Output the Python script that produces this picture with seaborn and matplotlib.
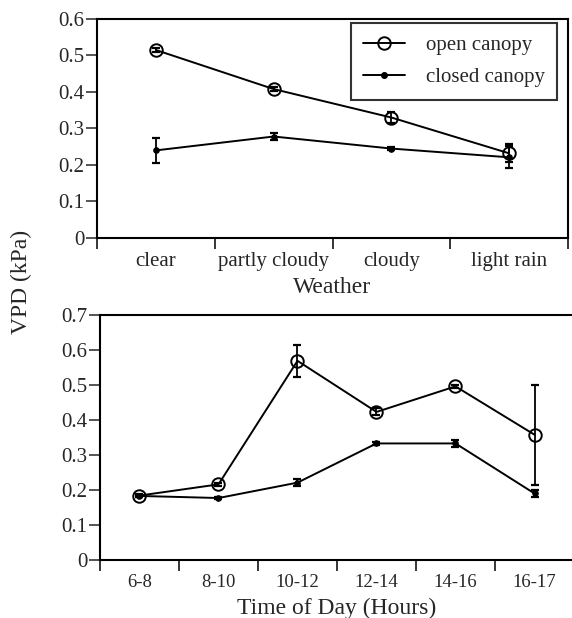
# VPD under open vs closed canopy, by weather and by time of day

import pandas as pd
import matplotlib
matplotlib.use('Agg')
import matplotlib.pyplot as plt
import seaborn as sns
from matplotlib.lines import Line2D

# Data
weather = ['clear', 'partly cloudy', 'cloudy', 'light rain']
weather_open = [0.515, 0.408, 0.330, 0.232]
weather_open_err = [0.006, 0.006, 0.015, 0.025]
weather_closed = [0.240, 0.278, 0.245, 0.221]
weather_closed_err = [0.035, 0.010, 0.004, 0.030]

hours = ['6-8', '8-10', '10-12', '12-14', '14-16', '16-17']
hours_open = [0.184, 0.216, 0.569, 0.423, 0.496, 0.358]
hours_open_err = [0.004, 0.004, 0.046, 0.010, 0.005, 0.143]
hours_closed = [0.183, 0.177, 0.221, 0.333, 0.333, 0.190]
hours_closed_err = [0.003, 0.003, 0.010, 0.005, 0.010, 0.010]

sns.set_style('ticks')
plt.rcParams['font.family'] = ['Liberation Serif', 'DejaVu Serif']

fig = plt.figure(figsize=(5.72, 6.18), dpi=100)
ax1 = fig.add_axes([0.1696, 0.6149, 0.8234, 0.3544])
ax2 = fig.add_axes([0.1748, 0.0939, 0.8287, 0.3964])


def make_df(cats, open_v, closed_v, open_e, closed_e):
    n = len(cats)
    return pd.DataFrame({
        'pos': list(range(n)) * 2,
        'VPD': open_v + closed_v,
        'err': open_e + closed_e,
        'Canopy': ['open canopy'] * n + ['closed canopy'] * n,
    })


def draw_panel(ax, cats, df, ymax, xlabel, label_pad, label_size, xlabel_y):
    sns.lineplot(data=df, x='pos', y='VPD', style='Canopy',
                 markers={'open canopy': 'o', 'closed canopy': 'o'},
                 dashes=False, color='black', linewidth=1.4, ax=ax,
                 legend=False, zorder=3)
    # marker style per series
    lines = ax.get_lines()
    lines[0].set_markerfacecolor('none')
    lines[0].set_markeredgecolor('black')
    lines[0].set_markersize(9)
    lines[0].set_markeredgewidth(1.4)
    lines[1].set_markerfacecolor('black')
    lines[1].set_markeredgecolor('black')
    lines[1].set_markersize(4)
    for canopy in ['open canopy', 'closed canopy']:
        sub = df[df['Canopy'] == canopy]
        ax.errorbar(sub['pos'], sub['VPD'], yerr=sub['err'], fmt='none',
                    ecolor='black', elinewidth=1.3, capsize=3, capthick=1.6,
                    zorder=2)
    n = len(cats)
    nt = int(round(ymax * 10))
    ax.set_xlim(-0.5, n - 0.5)
    ax.set_ylim(0, ymax)
    ax.set_yticks([i / 10 for i in range(nt + 1)])
    ax.set_yticklabels(['0'] + ['%.1f' % (i / 10) for i in range(1, nt + 1)])
    ax.set_xticks([i - 0.5 for i in range(n + 1)])
    ax.set_xticklabels([])
    ax.set_xticks(range(n), minor=True)
    ax.set_xticklabels(cats, minor=True)
    ax.tick_params(axis='x', which='major', direction='out', length=8, width=1.3)
    ax.tick_params(axis='x', which='minor', length=0, pad=label_pad,
                   labelsize=label_size)
    ax.tick_params(axis='y', direction='out', length=8, width=1.1, labelsize=15, pad=1)
    ax.set_xlabel(xlabel, fontsize=17)
    ax.xaxis.set_label_coords(0.5, xlabel_y)
    ax.set_ylabel('')
    for sp in ax.spines.values():
        sp.set_visible(True)
        sp.set_linewidth(1.5)
        sp.set_color('black')


df_weather = make_df(weather, weather_open, weather_closed,
                     weather_open_err, weather_closed_err)
df_hours = make_df(hours, hours_open, hours_closed,
                   hours_open_err, hours_closed_err)

draw_panel(ax1, weather, df_weather, 0.6, 'Weather', 10, 15, -0.18)
draw_panel(ax2, hours, df_hours, 0.7, 'Time of Day (Hours)', 10, 13.5, -0.155)

# legend for the top panel
handles = [
    Line2D([], [], color='black', lw=1.4, marker='o', markersize=9,
           markerfacecolor='none', markeredgewidth=1.4),
    Line2D([], [], color='black', lw=1.4, marker='o', markersize=4,
           markerfacecolor='black'),
]
leg = ax1.legend(handles, ['open canopy', 'closed canopy'], loc='upper right',
                 bbox_to_anchor=(0.977, 0.982), borderaxespad=0, fontsize=15,
                 frameon=True, fancybox=False, edgecolor='black',
                 handlelength=2.0, borderpad=0.6, labelspacing=0.6,
                 handletextpad=1.0)
leg.get_frame().set_linewidth(1.5)

fig.text(0.038, 0.544, 'VPD (kPa)', rotation=90, ha='center', va='center',
         fontsize=17)

fig.savefig('out.png', dpi=100)
